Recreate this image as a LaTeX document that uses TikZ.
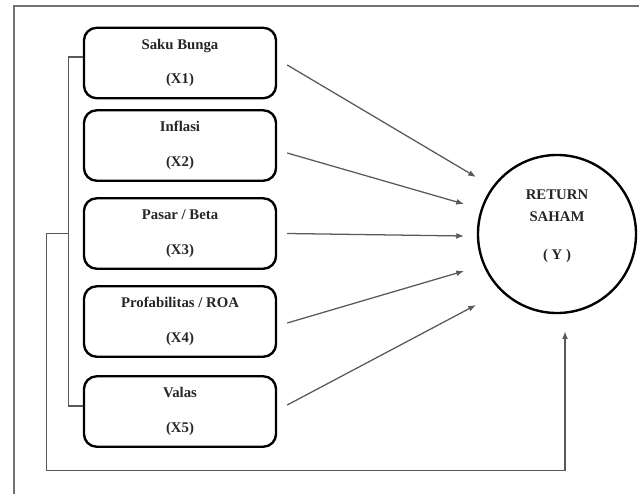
\documentclass[tikz,border=0pt]{standalone}
\usepackage{fontspec}
\setmainfont{Liberation Serif}
\usetikzlibrary{positioning, arrows.meta, calc}

\begin{document}
\begin{tikzpicture}[
    x=0.025cm, y=-0.025cm,
    every node/.style={font=\fontsize{10.5}{12}\selectfont\bfseries, text=black!85},
    varbox/.style={draw, rounded corners=9pt, line width=1.7pt,
        minimum width=4.8cm, minimum height=1.76cm, align=center},
    retcircle/.style={draw, circle, line width=1.7pt, minimum size=3.95cm, align=center},
    link/.style={draw=black!65, line width=0.9pt},
    >={Latex[length=5.5pt,width=4.2pt]}
]
\useasboundingbox (0,0) rectangle (639,494);

% Outer frame (only top and left visible)
\draw[draw=black!55, line width=1.2pt] (639,6) -- (14,6) -- (14,494);

% Independent variables
\node[varbox] (x1) at (180,63) {Saku Bunga\\[12.8pt](X1)};
\node[varbox] (x2) at (180,145.5) {Inflasi\\[12.8pt](X2)};
\node[varbox] (x3) at (180,233.5) {Pasar / Beta\\[12.8pt](X3)};
\node[varbox] (x4) at (180,321.5) {Profabilitas / ROA\\[12.8pt](X4)};
\node[varbox] (x5) at (180,411.5) {Valas\\[12.8pt](X5)};

% Dependent variable
\node[retcircle] (y) at (557,234) {RETURN\\[3.6pt]SAHAM\\[15pt]( Y )\\[0.8pt]\mbox{}};

% Arrow tips in front of the circle
\coordinate (t1) at (476,177);
\coordinate (t2) at (464,204);
\coordinate (t3) at (464,236);
\coordinate (t4) at (464,271);
\coordinate (t5) at (476,305);

% Partial effects
\draw[link, ->] ($(x1.east)+(10,2)$) -- (t1);
\draw[link, ->] ($(x2.east)+(10,7.5)$) -- (t2);
\draw[link, ->] ($(x3.east)+(10,0)$) -- (t3);
\draw[link, ->] ($(x4.east)+(10,1.5)$) -- (t4);
\draw[link, ->] ($(x5.east)+(10,-6.5)$) -- (t5);

% Bracket joining all variables
\coordinate (brTop) at ($(x1.west)+(-14,-6)$);
\coordinate (brBot) at ($(x5.west)+(-14,-5.5)$);
\coordinate (brMid) at (brTop |- x3.center);
\draw[link] ($(x1.west)+(0,-6)$) -- (brTop) -- (brBot) -- ($(x5.west)+(0,-5.5)$);

% Simultaneous effect
\coordinate (fbTip) at ($(y.south)+(8,17)$);
\draw[link, ->] (brMid) -- ++(-22,0) -- ++(0,237) -| (fbTip);

\end{tikzpicture}
\end{document}
